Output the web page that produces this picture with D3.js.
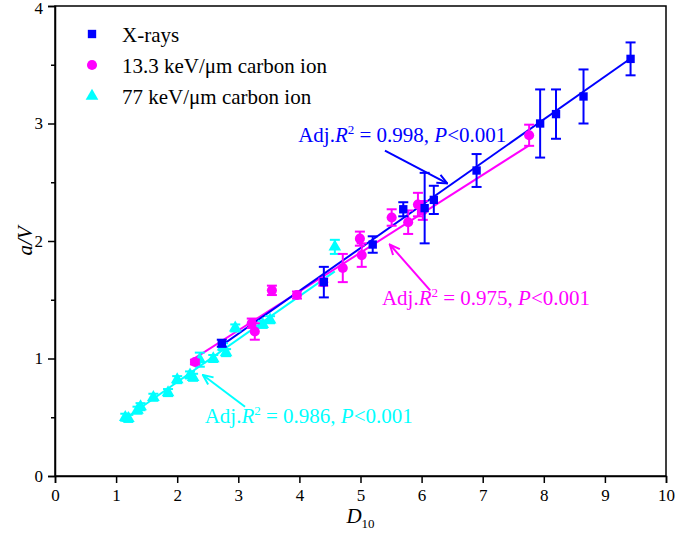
<!DOCTYPE html>
<html>
<head>
<meta charset="utf-8">
<script src="https://cdn.jsdelivr.net/npm/d3@7"></script>
<style>
  body { margin: 0; background: #fff; }
  svg text { font-family: "Liberation Serif", "Times New Roman", Times, "DejaVu Serif", serif !important; }
</style>
</head>
<body>
<svg id="chart" width="675" height="549"></svg>
<script>
// X-rays
const xrayX   = [2.73, 4.40, 5.20, 5.70, 6.05, 6.20, 6.90, 7.94, 8.20, 8.65, 9.42];
const xrayY   = [1.13, 1.65, 1.97, 2.27, 2.28, 2.35, 2.60, 3.00, 3.08, 3.23, 3.55];
const xrayErr = [0.03, 0.13, 0.07, 0.06, 0.30, 0.12, 0.14, 0.29, 0.21, 0.23, 0.14];

// 13.3 keV/um carbon ion
const magX   = [2.29, 3.22, 3.27, 3.55, 3.96, 4.39, 4.71, 4.99, 5.02, 5.51, 5.78, 5.94, 6.02, 7.76];
const magY   = [0.97, 1.30, 1.23, 1.58, 1.54, 1.65, 1.77, 2.02, 1.88, 2.20, 2.16, 2.31, 2.26, 2.90];
const magErr = [0.02, 0.04, 0.07, 0.04, 0.03, 0.03, 0.12, 0.06, 0.10, 0.07, 0.10, 0.10, 0.08, 0.09];

// 77 keV/um carbon ion
const cyX   = [1.15, 1.20, 1.35, 1.40, 1.61, 1.85, 2.00, 2.21, 2.26, 2.37, 2.59, 2.75, 2.80, 2.95, 3.40, 3.52, 4.58];
const cyY   = [0.50, 0.49, 0.56, 0.59, 0.67, 0.71, 0.82, 0.86, 0.84, 0.99, 1.00, 1.10, 1.05, 1.26, 1.29, 1.33, 1.95];
const cyErr = [0.03, 0.03, 0.03, 0.03, 0.03, 0.03, 0.03, 0.03, 0.03, 0.06, 0.03, 0.03, 0.03, 0.03, 0.03, 0.03, 0.06];

// linear fits: [intercept, slope, xStart, xEnd]
const xrayFit = [0.115, 0.365, 2.70, 9.42];
const magFit  = [0.246, 0.331, 2.25, 7.76];
const cyFit   = [0.07, 0.365, 1.15, 4.58];

// annotations: [textX, textY, arrowFromX, arrowFromY, arrowToX, arrowToY]
const xrayNote = [3.98, 2.84, 5.40, 2.77, 6.42, 2.49];
const magNote  = [5.35, 1.455, 6.14, 1.58, 5.48, 1.97];
const cyNote   = [2.45, 0.45, 3.11, 0.59, 2.42, 0.86];
const noteValues = ["0.998", "0.975", "0.986"];

const legendLabels = ["X-rays", "13.3 keV/\u03bcm carbon ion", "77 keV/\u03bcm carbon ion"];
const xTicks = [0, 1, 2, 3, 4, 5, 6, 7, 8, 9, 10];
const yTicks = [0, 1, 2, 3, 4];
const yMinor = [0.5, 1.5, 2.5, 3.5];

const BLUE = "#0000ff", MAGENTA = "#ff00ff", CYAN = "#00ffff";

const svg = d3.select("#chart");
const margin = {left: 55, top: 6, right: 9, bottom: 73};
const W = 675, H = 549;

const xScale = d3.scaleLinear().domain([0, 10]).range([margin.left, W - margin.right]);
const yScale = d3.scaleLinear().domain([0, 4]).range([H - margin.bottom, margin.top]);

// frame
svg.append("rect")
    .attr("x", xScale(0))
    .attr("y", yScale(4))
    .attr("width", xScale(10) - xScale(0))
    .attr("height", yScale(0) - yScale(4))
    .attr("fill", "none")
    .attr("stroke", "#000")
    .attr("stroke-width", 1.5);

// axes
const xAxis = svg.append("g")
    .attr("transform", `translate(0,${yScale(0)})`)
    .call(d3.axisBottom(xScale).tickValues(xTicks).tickSize(7).tickPadding(6).tickFormat(d3.format("d")));
const yAxis = svg.append("g")
    .attr("transform", `translate(${xScale(0)},0)`)
    .call(d3.axisLeft(yScale).tickValues(yTicks).tickSize(7).tickPadding(5).tickFormat(d3.format("d")));
svg.append("g")
    .attr("transform", `translate(${xScale(0)},0)`)
    .call(d3.axisLeft(yScale).tickValues(yMinor).tickSize(4).tickFormat(""))
    .select(".domain").remove();

svg.selectAll(".tick line").attr("stroke-width", 1.5);
[xAxis, yAxis].forEach(a => {
    a.select(".domain").attr("stroke-width", 1.5);
    a.selectAll("text")
        .attr("font-size", 17)
        .attr("fill", "#000");
});
yAxis.selectAll(".tick text").filter(d => d === 4).attr("dy", "0.45em");

// axis titles
svg.append("text")
    .attr("transform", `translate(32,${(yScale(0) + yScale(4)) / 2}) rotate(-90)`)
    .attr("text-anchor", "middle")
    .attr("font-size", 21)
    .attr("font-style", "italic")
    .text("a/V");

const xt = svg.append("text")
    .attr("x", (xScale(0) + xScale(10)) / 2)
    .attr("y", 523)
    .attr("text-anchor", "middle")
    .attr("font-size", 21);
xt.append("tspan").attr("font-style", "italic").text("D");
xt.append("tspan").attr("font-size", 13).attr("dy", 5).text("10");

// fit lines
function AddFit(fit, color) {
    const xs = [fit[2], fit[3]];
    svg.append("line")
        .attr("x1", xScale(xs[0]))
        .attr("y1", yScale(fit[0] + fit[1] * xs[0]))
        .attr("x2", xScale(xs[1]))
        .attr("y2", yScale(fit[0] + fit[1] * xs[1]))
        .attr("stroke", color)
        .attr("stroke-width", 2);
}

// error bars
function AddErrors(xs, ys, es, color) {
    const I = d3.range(xs.length);
    const g = svg.append("g").attr("stroke", color).attr("stroke-width", 2);
    g.selectAll(".v").data(I).join("line")
        .attr("x1", i => xScale(xs[i]))
        .attr("x2", i => xScale(xs[i]))
        .attr("y1", i => yScale(ys[i] + es[i]))
        .attr("y2", i => yScale(ys[i] - es[i]));
    [1, -1].forEach(s => {
        g.selectAll(null).data(I).join("line")
            .attr("x1", i => xScale(xs[i]) - 5)
            .attr("x2", i => xScale(xs[i]) + 5)
            .attr("y1", i => yScale(ys[i] + s * es[i]))
            .attr("y2", i => yScale(ys[i] + s * es[i]));
    });
}

const symbols = {
    square: d3.symbol(d3.symbolSquare, 70),
    circle: d3.symbol(d3.symbolCircle, 80),
    triangle: d3.symbol(d3.symbolTriangle, 70),
};

function AddPoints(xs, ys, sym, color) {
    svg.append("g")
        .selectAll("path")
        .data(d3.range(xs.length))
        .join("path")
        .attr("transform", i => `translate(${xScale(xs[i])},${yScale(ys[i])})`)
        .attr("d", symbols[sym]())
        .attr("fill", color);
}

AddFit(cyFit, CYAN);
AddFit(magFit, MAGENTA);
AddFit(xrayFit, BLUE);

AddErrors(cyX, cyY, cyErr, CYAN);
AddPoints(cyX, cyY, "triangle", CYAN);
AddErrors(magX, magY, magErr, MAGENTA);
AddPoints(magX, magY, "circle", MAGENTA);
AddErrors(xrayX, xrayY, xrayErr, BLUE);
AddPoints(xrayX, xrayY, "square", BLUE);

// annotations
const defs = svg.append("defs");
function AddNote(note, value, color, id) {
    defs.append("marker")
        .attr("id", id)
        .attr("viewBox", "0 0 12 12")
        .attr("refX", 11).attr("refY", 6)
        .attr("markerWidth", 12).attr("markerHeight", 12)
        .attr("markerUnits", "userSpaceOnUse")
        .attr("orient", "auto")
        .append("path")
        .attr("d", "M1,1.5 L11,6 L1,10.5")
        .attr("fill", "none")
        .attr("stroke", color)
        .attr("stroke-width", 2);
    svg.append("line")
        .attr("x1", xScale(note[2])).attr("y1", yScale(note[3]))
        .attr("x2", xScale(note[4])).attr("y2", yScale(note[5]))
        .attr("stroke", color)
        .attr("stroke-width", 2)
        .attr("marker-end", `url(#${id})`);
    const t = svg.append("text")
        .attr("x", xScale(note[0]))
        .attr("y", yScale(note[1]))
        .attr("font-size", 21)
        .attr("fill", color);
    t.append("tspan").text("Adj.");
    t.append("tspan").attr("font-style", "italic").text("R");
    t.append("tspan").attr("font-size", 13).attr("dy", -8).text("2");
    t.append("tspan").attr("dy", 8).text(` = ${value}, `);
    t.append("tspan").attr("font-style", "italic").text("P");
    t.append("tspan").text("<0.001");
}
AddNote(xrayNote, noteValues[0], BLUE, "arrB");
AddNote(magNote, noteValues[1], MAGENTA, "arrM");
AddNote(cyNote, noteValues[2], CYAN, "arrC");

// legend
const legendSyms = ["square", "circle", "triangle"];
const legendColors = [BLUE, MAGENTA, CYAN];
const leg = svg.append("g").attr("transform", "translate(92,0)");
legendLabels.forEach((lab, i) => {
    const cy = 34 + i * 31;
    leg.append("path")
        .attr("transform", `translate(0,${cy})`)
        .attr("d", symbols[legendSyms[i]]())
        .attr("fill", legendColors[i]);
    leg.append("text")
        .attr("x", 30)
        .attr("y", cy + 8)
        .attr("font-size", 21)
        .text(lab);
});
</script>
</body>
</html>
